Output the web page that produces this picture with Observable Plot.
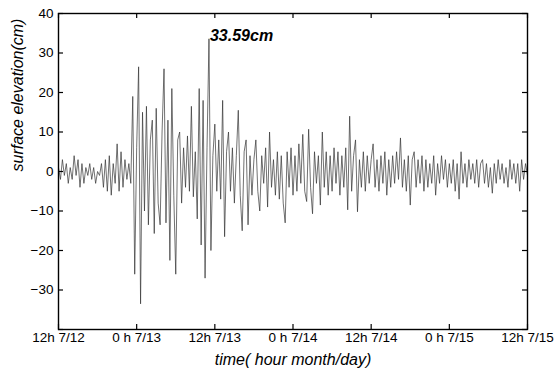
<!DOCTYPE html>
<html><head><meta charset="utf-8">
<script src="https://cdn.jsdelivr.net/npm/d3@7"></script>
<script src="https://cdn.jsdelivr.net/npm/@observablehq/plot@0.6"></script>
<style>
body{margin:0;background:#fff}
svg{font-family:"Liberation Sans",Arial,sans-serif}
</style></head><body><div id="chart"></div>
<script>
// sampling interval of the record (hours) starting at 12h 7/12
const stepHours = 0.3;
// surface elevation (cm)
const elevation = [
 1,-2,3,-1,2,-3,1,-2,4,-1, 3,-4,2,-3,1,-1,2,-2,1,-3,
 0,-1,2,-4,3,-5,4,-6,2,-3, 7,-5,5,-4,3,-2,2,-3,19,-26,
 6,26.5,-33.5,15,-10,16.5,-13.5,8,13,-15.7, 16,-8,-13.5,10,26,-13,13,-22.5,21,-6,
 -26,8,10,-8,6,-4,9,-5,16.5,-6.4, 5,-12,21,-18.6,18,-27,6,33.59,-20,4,
 12,-5,8,-7,18,-16.5,5,10,-5,6, -8,4,15.5,-6,-15,5,8,-13.5,4,-6,
 3,8,-5,-10,4,-3,6,-9,10,-4, 3,-6,5,-7,4,-8,-13,5,-4,6,
 -6,4,-5,7,-3,9.4,-5,-7.6,10.7,-4, -10.7,5,-3,4,-8.5,10,-4,5,-6,4,
 -5,6,-3,5,-6,4,-4,6,-9.7,14, -5,4,8,-10.2,3,-4,5,-5,4,-3,
 3,7,-4,3,-5,4,-3,5,-6,3, -4,4,-3,5,-2,8.5,-4,3,-5,4,
 -8.5,3,5,-4,3,-3,4,-5,3,-4, 2,-3,4,-6,2,-3,4,-2,3,-4,
 2,-3,3,-5,2,-7,5,-3,2,-4, 3,-2,2,-3,3,-4,2,3,-3,2,
 -4,1,-5.5,2,-3,3,-2,2,-3,1, -4,3,-2,2,-3,2,-5,3,-2,2,
 -1
];
const tickHours = [0,12,24,36,48,60,72];
const tickLabels = ["12h 7/12","0 h 7/13","12h 7/13","0 h 7/14","12h 7/14","0 h 7/15","12h 7/15"];
const yTicks = [-30,-20,-10,0,10,20,30,40];
const yTicksAll = [-40,-30,-20,-10,0,10,20,30,40];
const peakLabel = "33.59cm";
const xTitle = "time( hour month/day)";
const yTitle = "surface elevation(cm)";

const data = elevation.map((v,i)=>({t:i*stepHours, v}));
const peak = d3.greatest(data, d=>d.v);

const W = 554, H = 376, mL = 58, mR = 27, mT = 13, mB = 47;
const innerW = W - mL - mR, innerH = H - mT - mB, tick = 5;
const font = "Liberation Sans, Arial, sans-serif";
const chart = Plot.plot({
  width:W, height:H,
  marginLeft:mL, marginRight:mR, marginTop:mT, marginBottom:mB,
  x:{domain:[0,72]},
  y:{domain:[-40,40]},
  style:{fontSize:"13.5px", fontFamily:font, color:"#000", background:"#fff"},
  marks:[
    Plot.line(data,{x:"t", y:"v", stroke:"#333", strokeWidth:0.7}),
    // inward ticks on all four sides
    Plot.ruleX(tickHours,{x:d=>d, insetTop:innerH - tick, stroke:"#000", strokeWidth:1.2}),
    Plot.ruleX(tickHours,{x:d=>d, insetBottom:innerH - tick, stroke:"#000", strokeWidth:1.2}),
    Plot.ruleY(yTicksAll,{y:d=>d, insetRight:innerW - tick, stroke:"#000", strokeWidth:1.2}),
    Plot.ruleY(yTicksAll,{y:d=>d, insetLeft:innerW - tick, stroke:"#000", strokeWidth:1.2}),
    Plot.frame({stroke:"#000", strokeWidth:1.4}),
    Plot.axisX({anchor:"bottom", ticks:tickHours, tickFormat:d=>tickLabels[tickHours.indexOf(d)], tickSize:0, tickPadding:3, label:null, fontSize:13.5}),
    Plot.axisY({anchor:"left", ticks:yTicks, tickSize:0, tickPadding:5, label:null, fontSize:13.5}),
    Plot.text([peak],{x:"t", y:"v", text:()=>peakLabel, textAnchor:"start", dx:1, dy:-3, fontWeight:"bold", fontStyle:"italic", fontSize:16}),
    Plot.text([xTitle],{text:d=>d, frameAnchor:"bottom", dy:35, fontStyle:"italic", fontSize:16}),
    Plot.text([yTitle],{text:d=>d, frameAnchor:"left", dx:-41, rotate:-90, fontStyle:"italic", fontSize:16})
  ]
});
document.getElementById("chart").appendChild(chart);
</script></body></html>
